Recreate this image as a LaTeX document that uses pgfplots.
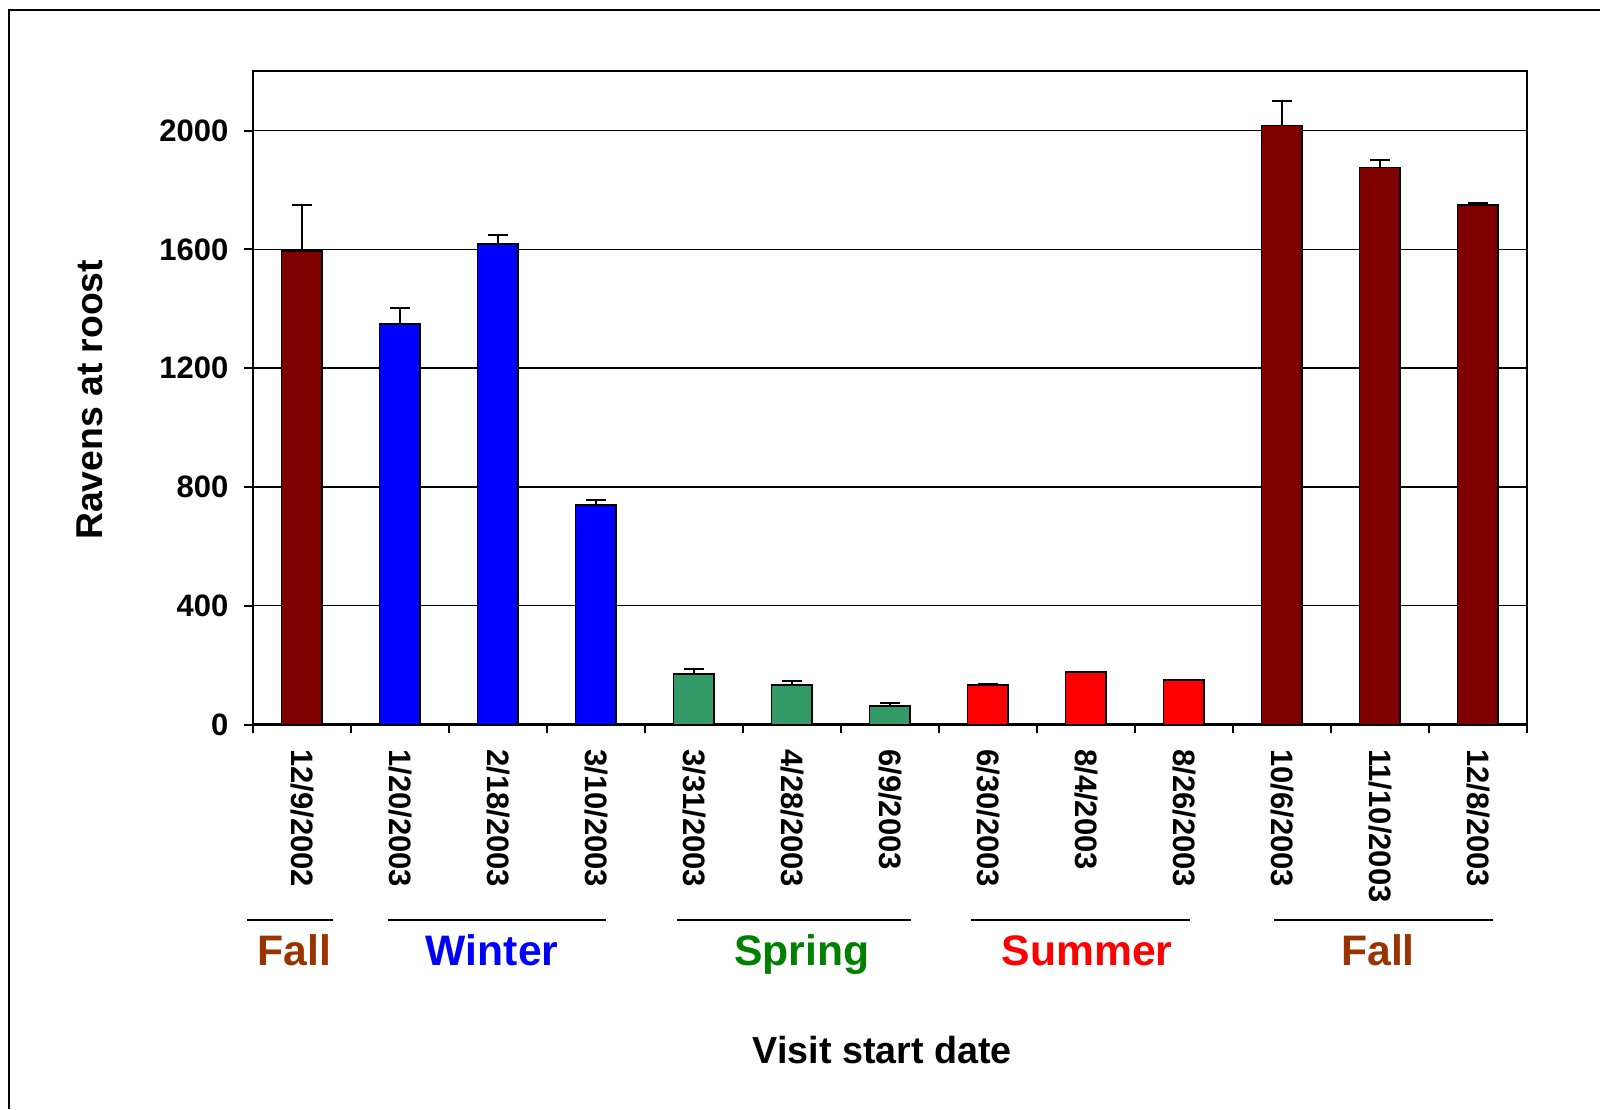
\documentclass[border=0pt]{standalone}
\usepackage{fontspec}
\setmainfont{Liberation Sans}
\usepackage{pgfplots}
\pgfplotsset{compat=1.18}

\definecolor{fallbar}{HTML}{800000}
\definecolor{winterbar}{HTML}{0000FF}
\definecolor{springbar}{HTML}{339966}
\definecolor{summerbar}{HTML}{FF0000}
\definecolor{falltxt}{HTML}{993300}
\definecolor{springtxt}{HTML}{008000}

\begin{document}
\begin{tikzpicture}
% page = 1600 x 1109 px at 0.3pt/px, origin at lower-left of the axis box
\useasboundingbox (-75.9pt,-115.35pt) rectangle (404.1pt,217.35pt);
\fill[white] (-75.9pt,-115.35pt) rectangle (404.1pt,217.35pt);
\draw[line width=0.5pt] (-73.2pt,-115.35pt) -- (-73.2pt,214.35pt) -- (404.1pt,214.35pt);

\begin{axis}[
    scale only axis,
    width=382.2pt, height=196pt,
    at={(0,0)}, anchor=south west,
    xmin=-0.5, xmax=12.5,
    ymin=0, ymax=2200,
    ytick={0,400,...,2000},
    xtick={-0.5,0.5,...,12.5},
    xticklabels={},
    extra x ticks={0,...,12},
    extra x tick labels={12/9/2002,1/20/2003,2/18/2003,3/10/2003,3/31/2003,4/28/2003,6/9/2003,6/30/2003,8/4/2003,8/26/2003,10/6/2003,11/10/2003,12/8/2003},
    extra x tick style={major tick length=0pt},
    major tick length=2.6pt,
    tick align=outside,
    tick pos=left,
    tick style={black, line width=0.6pt},
    ymajorgrids,
    grid style={black, line width=0.45pt},
    axis line style={line width=0.75pt},
    /pgf/number format/assume math mode=true,
    /pgf/number format/set thousands separator={},
    yticklabel style={font=\fontsize{9.3}{11}\selectfont\bfseries, inner sep=0pt, xshift=-4.6pt},
    % rotated labels: local x points downwards
    xticklabel style={font=\fontsize{9.3}{11}\selectfont\bfseries, rotate=-90, anchor=west, inner sep=0pt, xshift=7.2pt},
    ylabel={Ravens at roost},
    xlabel={Visit start date},
    every axis y label/.style={at={(rel axis cs:0,0.497)}, xshift=-49pt, rotate=90, anchor=center, font=\fontsize{11.2}{13}\selectfont\bfseries},
    every axis x label/.style={at={(rel axis cs:0.494,0)}, yshift=-97.7pt, anchor=center, font=\fontsize{11.3}{13}\selectfont\bfseries},
    ybar, bar width=12.2pt, bar shift=0pt,
    clip=false,
    every axis plot/.append style={draw=black, line width=0.5pt},
    error bars/y dir=plus, error bars/y explicit,
    error bars/error bar style={black, line width=0.5pt},
    error bars/error mark options={rotate=90, mark size=3pt, black, line width=0.6pt},
]
\addplot[fill=fallbar] coordinates {(0,1594) +- (0,155)};
\addplot[fill=winterbar] coordinates {(1,1349) +- (0,52) (2,1618) +- (0,31) (3,740) +- (0,17)};
\addplot[fill=springbar] coordinates {(4,169) +- (0,17) (5,134) +- (0,11) (6,62) +- (0,10)};
\addplot[fill=summerbar] coordinates {(7,134) +- (0,3) (8,176) +- (0,0) (9,151) +- (0,0)};
\addplot[fill=fallbar] coordinates {(10,2017) +- (0,83) (11,1876) +- (0,24) (12,1749) +- (0,6)};

% season brackets below the date labels
\draw[line width=0.5pt] ([yshift=-58.7pt]axis cs:-0.56,0) -- ([yshift=-58.7pt]axis cs:0.32,0);
\draw[line width=0.5pt] ([yshift=-58.7pt]axis cs:0.875,0) -- ([yshift=-58.7pt]axis cs:3.10,0);
\draw[line width=0.5pt] ([yshift=-58.7pt]axis cs:3.83,0) -- ([yshift=-58.7pt]axis cs:6.21,0);
\draw[line width=0.5pt] ([yshift=-58.7pt]axis cs:6.83,0) -- ([yshift=-58.7pt]axis cs:9.06,0);
\draw[line width=0.5pt] ([yshift=-58.7pt]axis cs:9.92,0) -- ([yshift=-58.7pt]axis cs:12.15,0);
\begin{scope}[every node/.style={anchor=base, inner sep=0pt, font=\fontsize{12.8}{15}\selectfont\bfseries}]
\node[text=falltxt] at ([yshift=-72.2pt]axis cs:-0.08,0) {Fall};
\node[text=winterbar] at ([yshift=-72.2pt]axis cs:1.94,0) {Winter};
\node[text=springtxt] at ([yshift=-72.2pt]axis cs:5.10,0) {Spring};
\node[text=summerbar] at ([yshift=-72.2pt]axis cs:8.01,0) {Summer};
\node[text=falltxt] at ([yshift=-72.2pt]axis cs:10.98,0) {Fall};
\end{scope}
\end{axis}
\end{tikzpicture}
\end{document}
